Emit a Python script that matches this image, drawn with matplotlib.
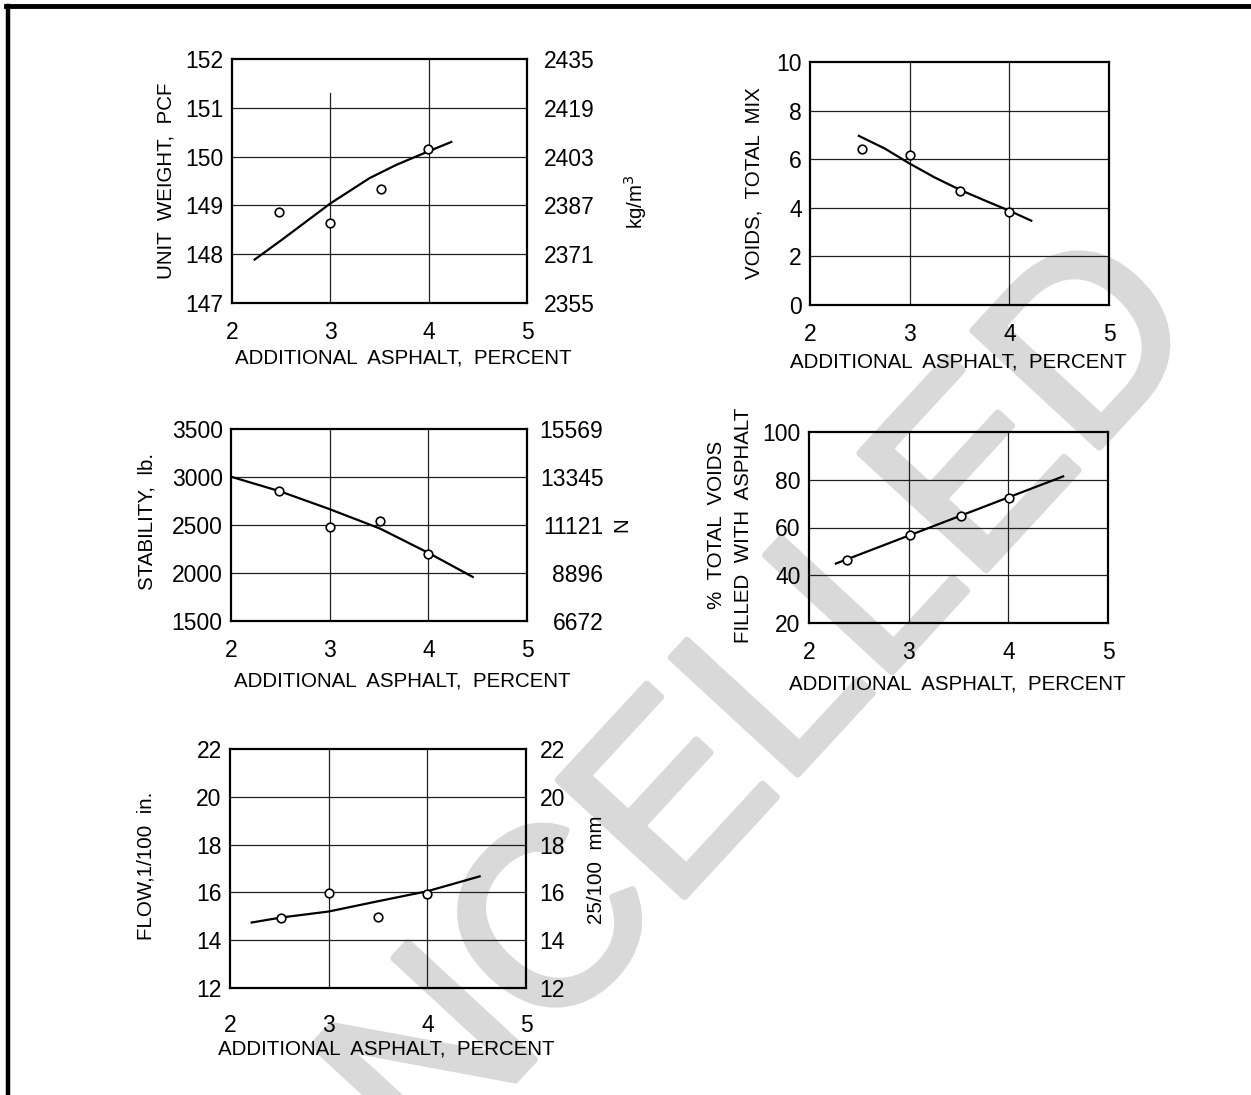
import matplotlib
matplotlib.use("Agg")
import matplotlib.pyplot as plt
from matplotlib.lines import Line2D
import matplotlib.patheffects as pe

# ---------------- data ----------------
x_ticks = [2, 3, 4, 5]
x_tick_labels = ["2", "3", "4", "5"]
x_label = "ADDITIONAL  ASPHALT,  PERCENT"

# Panel 1: unit weight
uw_ticks = [147, 148, 149, 150, 151, 152]
uw_right_labels = ["2355", "2371", "2387", "2403", "2419", "2435"]
uw_pts_x = [2.48, 3.0, 3.52, 3.99]
uw_pts_y = [148.86, 148.64, 149.33, 150.16]
uw_fit_x = [2.23, 2.51, 3.0, 3.40, 3.67, 4.0, 4.23]
uw_fit_y = [147.89, 148.30, 149.04, 149.56, 149.83, 150.11, 150.30]

# Panel 2: voids total mix
vt_ticks = [0, 2, 4, 6, 8, 10]
vt_pts_x = [2.52, 3.0, 3.51, 4.0]
vt_pts_y = [6.40, 6.19, 4.68, 3.82]
vt_fit_x = [2.49, 2.75, 3.0, 3.25, 3.51, 3.76, 4.0, 4.22]
vt_fit_y = [6.96, 6.44, 5.82, 5.25, 4.73, 4.29, 3.88, 3.47]

# Panel 3: stability
st_ticks = [1500, 2000, 2500, 3000, 3500]
st_right_labels = ["6672", "8896", "11121", "13345", "15569"]
st_pts_x = [2.49, 3.0, 3.51, 4.0]
st_pts_y = [2853, 2481, 2543, 2203]
st_fit_x = [2.0, 2.49, 3.0, 3.51, 4.0, 4.45]
st_fit_y = [3003, 2853, 2665, 2463, 2210, 1959]

# Panel 4: % voids filled with asphalt
vf_ticks = [20, 40, 60, 80, 100]
vf_pts_x = [2.38, 3.01, 3.53, 4.01]
vf_pts_y = [46.5, 56.9, 65.0, 72.5]
vf_fit_x = [2.27, 3.0, 4.0, 4.55]
vf_fit_y = [44.9, 56.6, 72.6, 81.4]

# Panel 5: flow
fl_ticks = [12, 14, 16, 18, 20, 22]
fl_right_labels = ["12", "14", "16", "18", "20", "22"]
fl_pts_x = [2.52, 3.0, 3.5, 4.0]
fl_pts_y = [14.92, 15.97, 14.95, 15.94]
fl_fit_x = [2.22, 2.52, 3.0, 3.5, 4.0, 4.24, 4.53]
fl_fit_y = [14.74, 14.95, 15.20, 15.63, 16.05, 16.33, 16.67]

watermark = "CANCELLED"

# ---------------- style ----------------
NUM_FONT = ["Liberation Sans", "DejaVu Sans"]
LBL_FONT = ["Liberation Sans", "DejaVu Sans"]
TICK_FS = 16.5
LBL_FS = 14.8

W, H = 1251, 1095
fig = plt.figure(figsize=(W / 100, H / 100), dpi=100)
fig.patch.set_facecolor("white")


def px_rect(left, top, right, bottom):
    return [left / W, 1 - bottom / H, (right - left) / W, (bottom - top) / H]


def panel(rect, yticks, pts_x, pts_y, fit_x, fit_y, xpad, xlab_pos,
          ylabel=None, ylab_pos=None, right_labels=None, right_pad=None,
          right_title=None, right_title_pos=None, vline3_top=1.0):
    ax = fig.add_axes(rect)
    ax.set_facecolor("none")
    ax.set_xlim(x_ticks[0], x_ticks[-1])
    ax.set_ylim(yticks[0], yticks[-1])
    ax.set_xticks(x_ticks)
    ax.set_xticklabels(x_tick_labels, fontfamily=NUM_FONT, fontsize=TICK_FS)
    ax.set_yticks(yticks)
    ax.set_yticklabels([str(t) for t in yticks], fontfamily=NUM_FONT, fontsize=TICK_FS)
    ax.tick_params(axis="both", length=0)
    ax.tick_params(axis="x", pad=xpad)
    ax.tick_params(axis="y", pad=6)
    for s in ax.spines.values():
        s.set_linewidth(1.6)
        s.set_color("black")
    # grid
    for t in yticks[1:-1]:
        ax.axhline(t, color="#202020", lw=0.9, zorder=1)
    for xv in x_ticks[1:-1]:
        top = vline3_top if xv == 3 else 1.0
        ax.axvline(xv, ymin=0, ymax=top, color="#202020", lw=0.9, zorder=1)
    # fitted curve and points
    ax.plot(fit_x, fit_y, color="black", lw=1.6, zorder=3)
    ax.plot(pts_x, pts_y, linestyle="none", marker="o", ms=6.2, mfc="white",
            mec="black", mew=1.2, zorder=4)
    # x label
    ax.set_xlabel(x_label, fontfamily=LBL_FONT, fontsize=LBL_FS)
    ax.xaxis.set_label_coords(xlab_pos[0], xlab_pos[1])
    if ylabel is not None:
        ax.set_ylabel(ylabel, fontfamily=LBL_FONT, fontsize=LBL_FS)
        ax.yaxis.set_label_coords(ylab_pos[0], ylab_pos[1])
    if right_labels is not None:
        ax2 = ax.twinx()
        ax2.set_ylim(yticks[0], yticks[-1])
        ax2.set_yticks(yticks)
        ax2.set_yticklabels(right_labels, fontfamily=NUM_FONT, fontsize=TICK_FS)
        for lab in ax2.get_yticklabels():
            lab.set_horizontalalignment("right")
        ax2.tick_params(axis="y", length=0, pad=right_pad)
        for s in ax2.spines.values():
            s.set_visible(False)
        if right_title is not None:
            ax2.set_ylabel(right_title, fontfamily=LBL_FONT, fontsize=LBL_FS)
            ax2.yaxis.set_label_coords(right_title_pos[0], right_title_pos[1])
    return ax


# Panel 1
panel(px_rect(232, 59, 527, 303), uw_ticks, uw_pts_x, uw_pts_y, uw_fit_x, uw_fit_y,
      xpad=13, xlab_pos=(0.58, -0.187), ylabel="UNIT  WEIGHT,  PCF", ylab_pos=(-0.193, 0.5),
      right_labels=uw_right_labels, right_pad=49, right_title="kg/m$^3$",
      right_title_pos=(1.32, 0.415), vline3_top=0.86)

# Panel 2
panel(px_rect(810, 62, 1109, 305), vt_ticks, vt_pts_x, vt_pts_y, vt_fit_x, vt_fit_y,
      xpad=13, xlab_pos=(0.495, -0.195), ylabel="VOIDS,  TOTAL  MIX", ylab_pos=(-0.154, 0.5))

# Panel 3
panel(px_rect(231, 429, 527, 621), st_ticks, st_pts_x, st_pts_y, st_fit_x, st_fit_y,
      xpad=13, xlab_pos=(0.579, -0.261), ylabel="STABILITY,  lb.", ylab_pos=(-0.253, 0.52),
      right_labels=st_right_labels, right_pad=55, right_title="N",
      right_title_pos=(1.29, 0.5))

# Panel 4
ax4 = panel(px_rect(809, 432, 1108, 623), vf_ticks, vf_pts_x, vf_pts_y, vf_fit_x, vf_fit_y,
            xpad=13, xlab_pos=(0.495, -0.268), ylabel="FILLED  WITH  ASPHALT",
            ylab_pos=(-0.187, 0.51))
ax4.text(-0.31, 0.515, "%  TOTAL  VOIDS", transform=ax4.transAxes, rotation=90,
         ha="center", va="center", fontfamily=LBL_FONT, fontsize=LBL_FS)

# Panel 5
panel(px_rect(230, 749, 526, 988), fl_ticks, fl_pts_x, fl_pts_y, fl_fit_x, fl_fit_y,
      xpad=19, xlab_pos=(0.527, -0.216), ylabel="FLOW,1/100  in.", ylab_pos=(-0.25, 0.51),
      right_labels=fl_right_labels, right_pad=28, right_title="25/100  mm",
      right_title_pos=(1.206, 0.494))

# watermark (behind everything)
wm_color = "#d9d9d9"
fig.text(699 / W, 1 - 881 / H, watermark, rotation=47.3, rotation_mode="anchor",
         ha="center", va="baseline", fontsize=180, color=wm_color,
         fontfamily=["Liberation Sans", "DejaVu Sans"], zorder=-5,
         path_effects=[pe.withStroke(linewidth=5, foreground=wm_color)])

# page frame (thick black lines at top and left)
fig.add_artist(Line2D([6 / W, 1.0], [1 - 6 / H, 1 - 6 / H], color="black", lw=3.5,
                      transform=fig.transFigure))
fig.add_artist(Line2D([8 / W, 8 / W], [0.0, 1 - 6 / H], color="black", lw=3.2,
                      transform=fig.transFigure))

fig.savefig("out.png", dpi=100, facecolor="white")
